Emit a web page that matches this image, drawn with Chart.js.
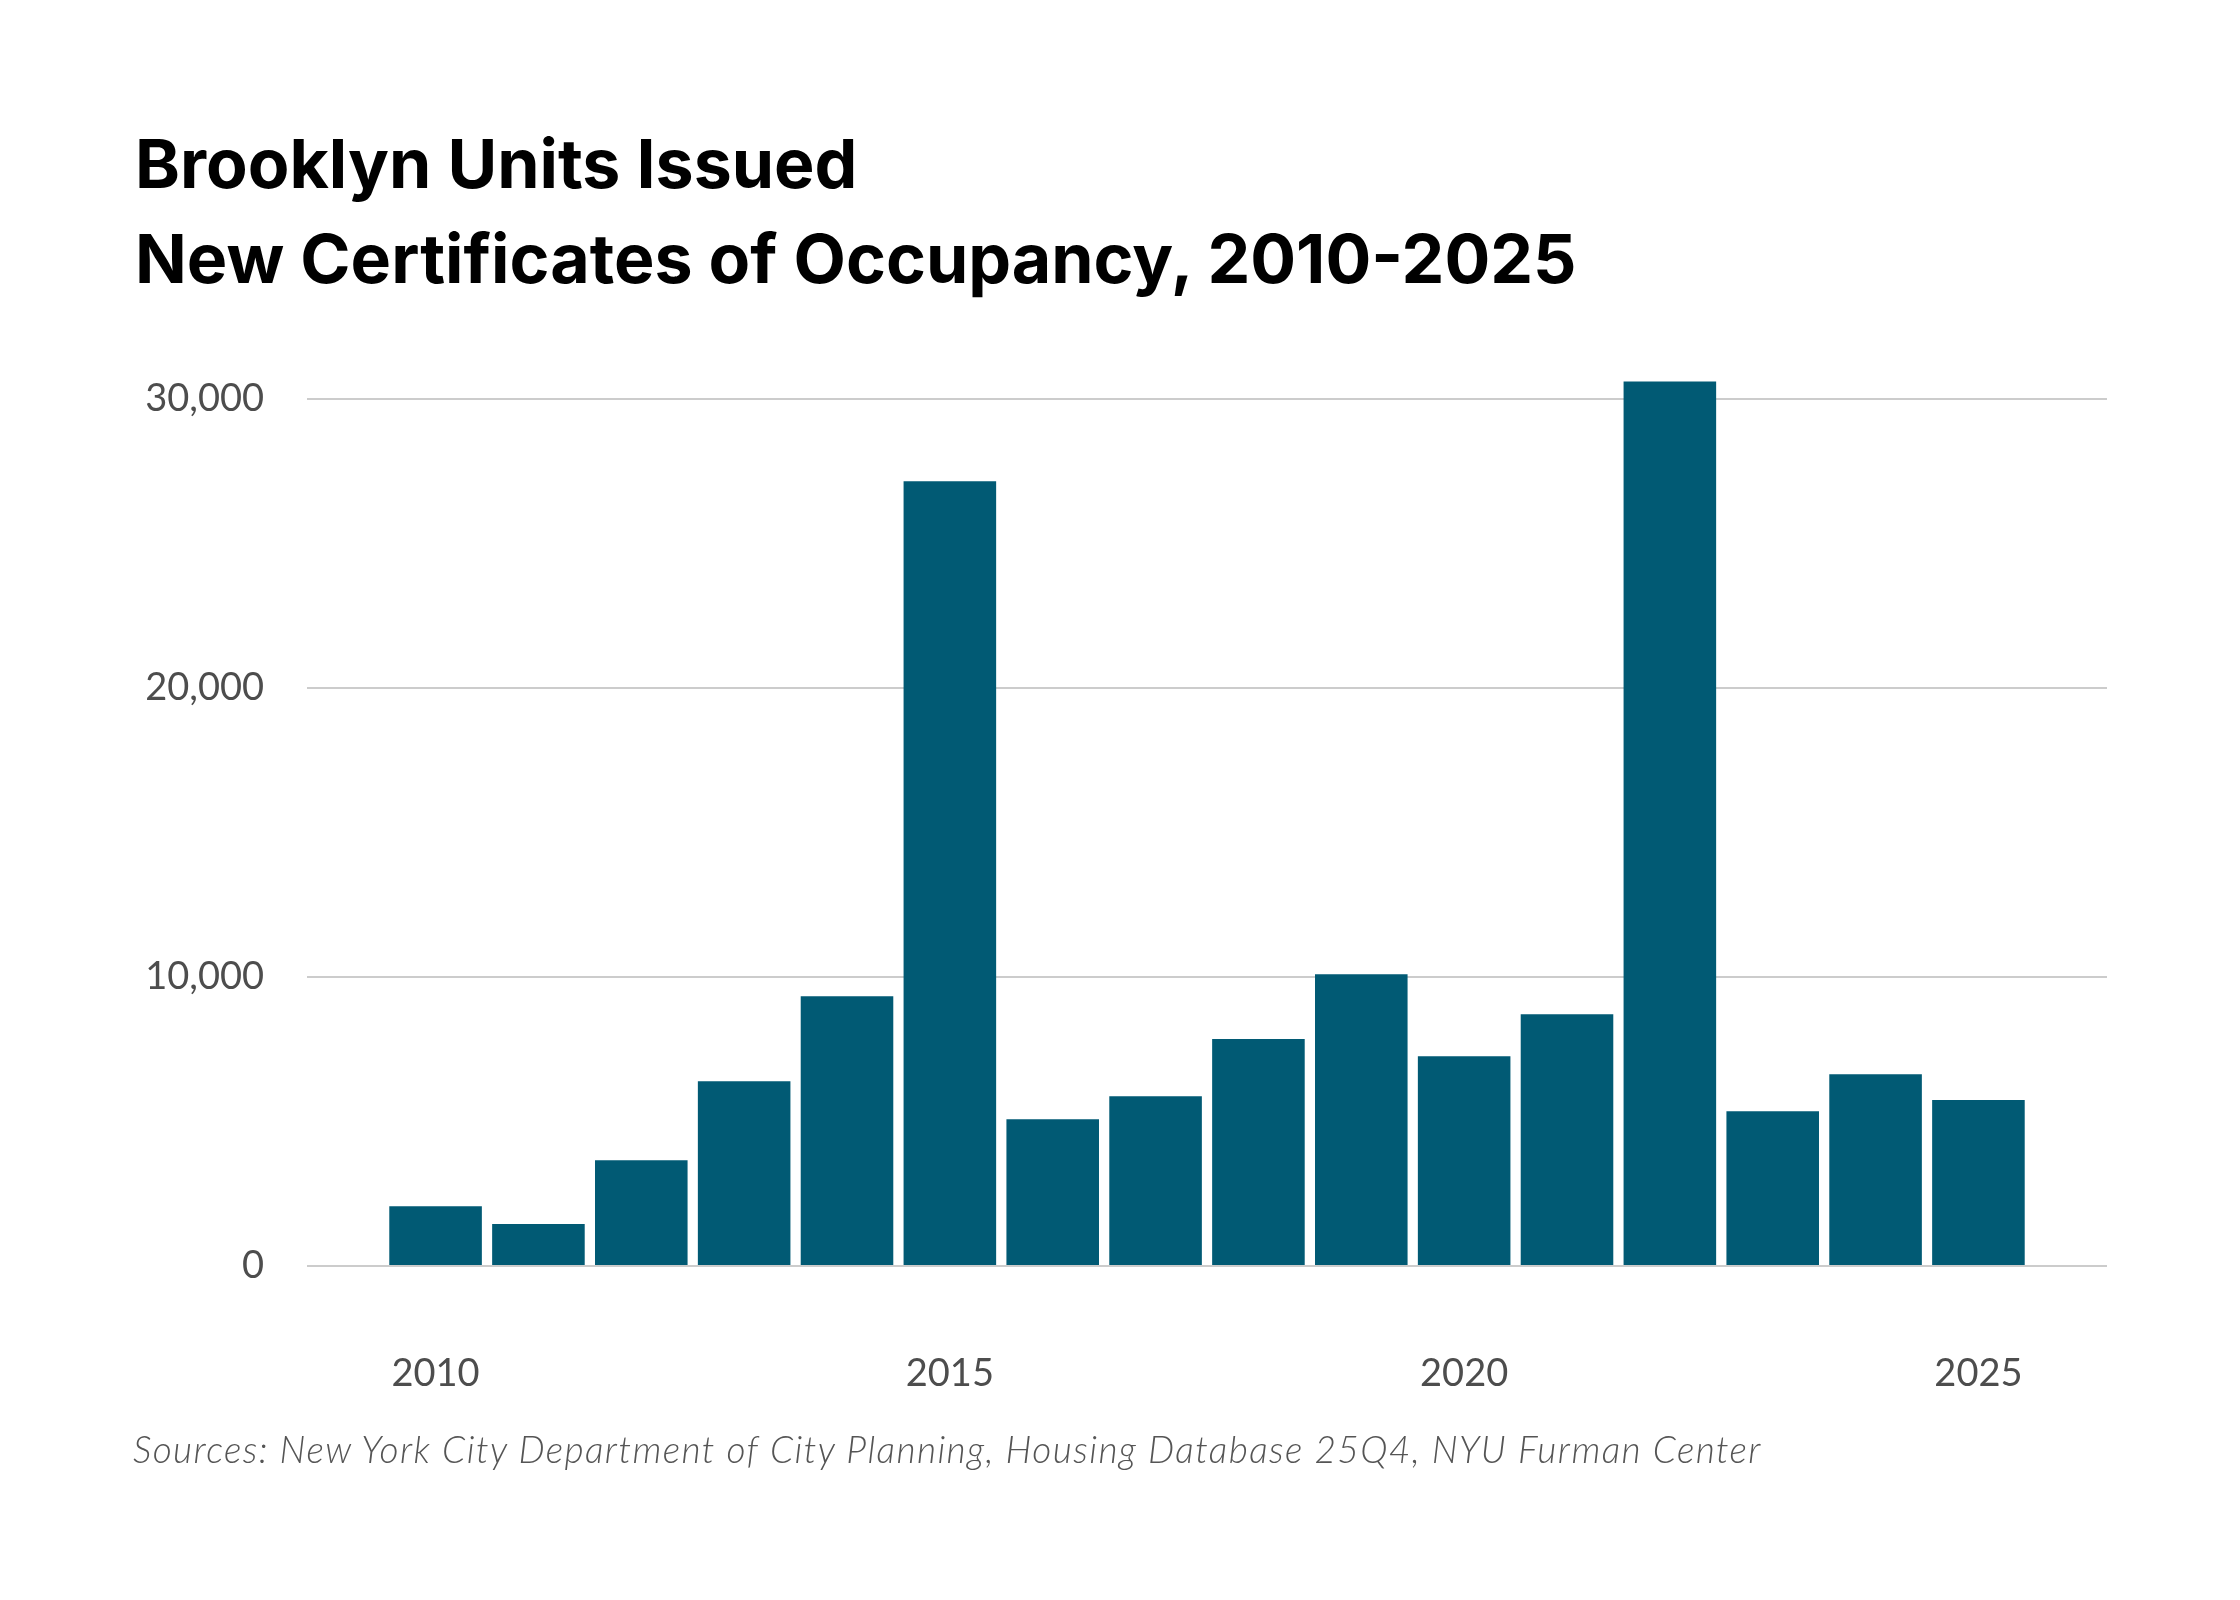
<!DOCTYPE html>
<html>
<head>
<meta charset="utf-8">
<title>Brooklyn Units Issued New Certificates of Occupancy</title>
<script src="https://cdn.jsdelivr.net/npm/chart.js@4.4.1/dist/chart.umd.min.js"></script>
<style>
  html, body { margin:0; padding:0; background:#fff; }
  body { width:2240px; height:1600px; position:relative; overflow:hidden; }
  .title { position:absolute; left:135px; font-family:Inter, "Noto Sans", sans-serif; font-weight:700; font-size:68px; line-height:68px; color:#000; white-space:nowrap; }
  #t1 { top:129px; }
  #t2 { top:224px; }
  #source { position:absolute; left:133px; top:1430px; font-family:Lato, "Open Sans", sans-serif; font-style:italic; font-weight:300; font-size:37px; line-height:37px; letter-spacing:1.4px; color:#555; white-space:nowrap; }
  #wrap { position:absolute; left:0; top:0; width:2240px; height:1600px; }
</style>
</head>
<body>
<div class="title" id="t1">Brooklyn Units Issued</div>
<div class="title" id="t2">New Certificates of Occupancy, 2010-2025</div>
<div id="wrap"><canvas id="chart"></canvas></div>
<div id="source">Sources: New York City Department of City Planning, Housing Database 25Q4, NYU Furman Center</div>
<script>
// Data
const years = [2010, 2011, 2012, 2013, 2014, 2015, 2016, 2017, 2018, 2019, 2020, 2021, 2022, 2023, 2024, 2025];
const units = [2070, 1450, 3660, 6390, 9330, 27150, 5080, 5870, 7850, 10090, 7260, 8710, 30600, 5350, 6630, 5740];
const xTicks = [2010, 2015, 2020, 2025];
const yTicks = [0, 10000, 20000, 30000];

const tickColor = '#4d4d4d';
const tickFont = { family: 'Lato, "Open Sans", sans-serif', size: 38 };

const ctx = document.getElementById('chart').getContext('2d');
new Chart(ctx, {
  type: 'bar',
  data: {
    datasets: [{
      label: 'Units',
      data: years.map((y, i) => ({ x: y, y: units[i] })),
      backgroundColor: '#015a74',
      borderWidth: 0,
      barPercentage: 0.9,
      categoryPercentage: 1
    }]
  },
  options: {
    responsive: true,
    maintainAspectRatio: false,
    devicePixelRatio: 1,
    animation: false,
    layout: { padding: { top: 341, right: 133, bottom: 0, left: 0 } },
    plugins: { legend: { display: false }, tooltip: { enabled: false } },
    scales: {
      x: {
        type: 'linear',
        offset: false,
        min: 2008.75,
        max: 2026.25,
        grid: { display: false, drawTicks: false },
        border: { display: false },
        afterBuildTicks: s => { s.ticks = xTicks.map(v => ({ value: v })); },
        afterFit: s => { s.height = 334; },
        ticks: {
          color: tickColor,
          font: tickFont,
          padding: 85,
          maxRotation: 0,
          callback: v => String(v)
        }
      },
      y: {
        min: 0,
        max: 32000,
        grid: { color: '#cccccc', lineWidth: 2, drawTicks: false },
        border: { display: false },
        afterBuildTicks: s => { s.ticks = yTicks.map(v => ({ value: v })); },
        afterFit: s => { s.width = 307; },
        ticks: {
          color: tickColor,
          font: tickFont,
          padding: 43,
          callback: v => v.toLocaleString('en-US')
        }
      }
    }
  }
});
</script>
</body>
</html>
